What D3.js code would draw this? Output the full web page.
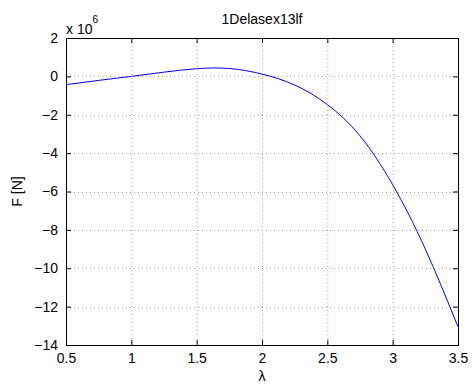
<!DOCTYPE html>
<html>
  <head>
    <meta charset="utf-8">
    <script src="https://d3js.org/d3.v7.min.js"></script>
    <style>
      body { margin: 0; background: #fff; }
      text { font-family: "Liberation Sans", Arial, sans-serif; fill: #000; }
    </style>
  </head>
  <body>
    <div id="chart"></div>
    <script>
      // values (F in units of 1e6 N)
      var lambdaVals = [0.5, 0.75, 1.0, 1.25, 1.5, 1.75, 2.0, 2.25, 2.5, 2.75, 3.0, 3.25, 3.5];
      var forceVals  = [-0.43, -0.21, 0.0, 0.22, 0.40, 0.41, 0.12, -0.45, -1.47, -3.1, -5.65, -9.0, -13.05];
      var xTicks = [0.5, 1, 1.5, 2, 2.5, 3, 3.5];
      var yTicks = [2, 0, -2, -4, -6, -8, -10, -12, -14];

      var width = 473, height = 387;
      var margin = {left: 66, top: 38, right: 15, bottom: 42};
      var pw = width - margin.left - margin.right;
      var ph = height - margin.top - margin.bottom;

      var svg = d3.select("#chart").append("svg")
        .attr("width", width)
        .attr("height", height);

      var x = d3.scaleLinear().domain([0.5, 3.5]).range([0, pw]);
      var y = d3.scaleLinear().domain([-14, 2]).range([ph, 0]);

      var g = svg.append("g").attr("transform", "translate(" + margin.left + "," + margin.top + ")");

      // grid
      g.selectAll(".vgrid").data(xTicks.slice(1, -1)).enter().append("line")
        .attr("x1", d => x(d) + 0.5).attr("x2", d => x(d) + 0.5)
        .attr("y1", 0).attr("y2", ph)
        .attr("stroke", "#999").attr("stroke-dasharray", "1,3");
      g.selectAll(".hgrid").data(yTicks.slice(1, -1)).enter().append("line")
        .attr("y1", d => Math.round(y(d)) + 0.5).attr("y2", d => Math.round(y(d)) + 0.5)
        .attr("x1", 0).attr("x2", pw)
        .attr("stroke", "#999").attr("stroke-dasharray", "1,3");

      // curve
      var data = lambdaVals.map((l, i) => [l, forceVals[i]]);
      var line = d3.line()
        .x(d => x(d[0]))
        .y(d => y(d[1]))
        .curve(d3.curveNatural);
      g.append("path").datum(data)
        .attr("d", line)
        .attr("fill", "none")
        .attr("stroke", "#0000ff")
        .attr("stroke-width", 1);

      // axes (ticks inward, MATLAB style)
      var tl = 5;
      g.append("g").attr("transform", "translate(0," + ph + ")")
        .call(d3.axisBottom(x).tickValues(xTicks).tickSize(-tl).tickPadding(tl + 3).tickFormat(d3.format("")))
        .call(s => s.select(".domain").remove());
      g.append("g")
        .call(d3.axisTop(x).tickValues(xTicks).tickSize(-tl).tickFormat(""))
        .call(s => s.select(".domain").remove());
      g.append("g")
        .call(d3.axisLeft(y).tickValues(yTicks).tickSize(-tl).tickPadding(tl + 3).tickFormat(d => d < 0 ? "\u2212" + (-d) : d))
        .call(s => s.select(".domain").remove());
      g.append("g").attr("transform", "translate(" + pw + ",0)")
        .call(d3.axisRight(y).tickValues(yTicks).tickSize(-tl).tickFormat(""))
        .call(s => s.select(".domain").remove());

      g.selectAll(".tick line").attr("stroke", "#000");
      g.selectAll(".tick text").style("font-size", "14px")
        .style("font-family", "'Liberation Sans', Arial, sans-serif");

      g.append("rect")
        .attr("x", 0.5).attr("y", 0.5)
        .attr("width", pw).attr("height", ph)
        .attr("fill", "none").attr("stroke", "#000").attr("stroke-width", 1);

      // title and labels
      svg.append("text")
        .attr("x", margin.left + pw / 2).attr("y", 24)
        .attr("text-anchor", "middle").style("font-size", "14px")
        .text("1Delasex13lf");

      var mult = svg.append("text").attr("x", margin.left).attr("y", 34).style("font-size", "14px");
      mult.append("tspan").text("x 10");
      mult.append("tspan").attr("dy", -11).style("font-size", "10px").text("6");

      svg.append("text")
        .attr("transform", "translate(22," + (margin.top + ph / 2) + ") rotate(-90)")
        .attr("text-anchor", "middle").style("font-size", "14px")
        .text("F [N]");

      svg.append("text")
        .attr("x", margin.left + pw / 2).attr("y", 381)
        .attr("text-anchor", "middle").style("font-size", "14px")
        .text("\u03bb");
    </script>
  </body>
</html>
